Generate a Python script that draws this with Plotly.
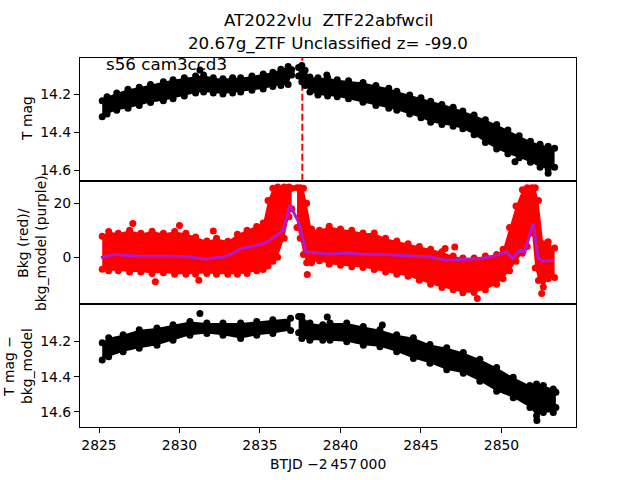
import plotly.graph_objects as go

# ---------------- data ----------------
# Top panel: T mag band (segment before and after the gap)
t_top1 = [2825.2, 2825.5, 2826.1, 2826.8, 2827.5, 2828.2, 2829.0, 2829.6, 2830.3, 2831.0, 2831.5,
          2832.1, 2832.7, 2833.3, 2833.8, 2834.5, 2835.2, 2835.8, 2836.3, 2836.75, 2836.97]
top1_hi = [14.235, 14.215, 14.195, 14.175, 14.165, 14.15, 14.135, 14.125, 14.115, 14.105, 14.10,
           14.115, 14.12, 14.115, 14.115, 14.105, 14.095, 14.085, 14.07, 14.055, 14.072]
top1_lo = [14.32, 14.305, 14.285, 14.275, 14.26, 14.245, 14.235, 14.225, 14.21, 14.195, 14.19,
           14.195, 14.2, 14.195, 14.19, 14.18, 14.173, 14.16, 14.155, 14.15, 14.10]
t_top2 = [2837.4, 2837.6, 2837.8, 2838.1, 2838.6, 2839.2, 2839.8, 2840.5, 2841.4, 2842.2, 2843.0,
          2843.5, 2844.3, 2845.0, 2845.6, 2846.3, 2847.0, 2847.6, 2848.3, 2849.0, 2849.7, 2850.4,
          2851.1, 2851.8, 2852.4, 2852.9, 2853.3]
top2_hi = [14.06, 14.05, 14.075, 14.11, 14.115, 14.115, 14.125, 14.13, 14.14, 14.155, 14.17,
           14.185, 14.205, 14.22, 14.238, 14.255, 14.27, 14.29, 14.31, 14.335, 14.36, 14.39,
           14.42, 14.448, 14.465, 14.475, 14.485]
top2_lo = [14.105, 14.135, 14.155, 14.19, 14.205, 14.21, 14.215, 14.225, 14.243, 14.26, 14.275,
           14.285, 14.305, 14.325, 14.348, 14.36, 14.37, 14.383, 14.415, 14.455, 14.489, 14.515,
           14.535, 14.559, 14.585, 14.595, 14.585]
top_out_t = [2831.27, 2839.15, 2850.84, 2852.9]
top_out_m = [14.074, 14.10, 14.556, 14.617]

# Middle panel: background (red band) and background model (purple line)
t_bkg1 = [2825.2, 2825.6, 2826.2, 2826.9, 2827.6, 2828.3, 2829.0, 2829.7, 2830.4, 2831.0, 2831.7,
          2832.3, 2833.0, 2833.6, 2834.2, 2834.8, 2835.2, 2835.5, 2835.8, 2836.1, 2836.5, 2836.8,
          2836.97]
bkg1_hi = [7.8, 9.5, 8.9, 10.0, 8.9, 9.6, 8.9, 9.5, 8.9, 7.5, 6.0, 7.0, 5.9, 8.5, 10.0, 11.4, 12.7,
           21.0, 25.5, 26.0, 26.0, 26.0, 25.5]
bkg1_lo = [-4.4, -5.0, -5.0, -5.5, -5.5, -6.0, -5.7, -6.3, -6.3, -6.3, -6.0, -6.3, -6.3, -6.3,
           -6.0, -5.0, -4.5, -3.2, -1.5, 0.0, 7.0, 15.0, 18.0]
t_bkg2 = [2837.3, 2837.5, 2837.7, 2837.9, 2838.2, 2838.7, 2839.3, 2840.0, 2840.7, 2841.4, 2842.1,
          2842.8, 2843.5, 2844.2, 2844.9, 2845.6, 2846.3, 2847.0, 2847.6, 2848.3, 2849.0, 2849.7,
          2850.1, 2850.5, 2850.9, 2851.3, 2851.6, 2851.9, 2852.1, 2852.3, 2852.6, 2852.9, 2853.3]
bkg2_hi = [25.7, 25.7, 25.5, 20.0, 10.5, 10.0, 11.5, 10.5, 10.0, 9.0, 9.0, 7.0, 6.0, 5.0, 4.0,
           3.0, 2.0, 0.5, -0.3, -0.3, 0.5, 1.0, 3.0, 11.0, 19.0, 25.0, 25.7, 25.7, 25.7, 21.0,
           5.0, 4.0, 3.4]
bkg2_lo = [11.0, 7.0, 1.0, -2.0, -2.0, -1.3, -2.6, -3.0, -3.5, -3.8, -4.5, -5.5, -6.3, -7.0,
           -8.5, -10.0, -11.2, -12.0, -13.1, -13.0, -12.0, -10.0, -8.0, -5.0, -1.5, 1.5, 4.0,
           9.0, -4.0, -8.6, -11.0, -8.0, -7.5]
bkg_out_t = [2827.1, 2830.0, 2832.1, 2828.5, 2831.2, 2837.94, 2848.5, 2852.5, 2846.5, 2847.1, 2852.9]
bkg_out_v = [12.5, 11.8, 9.7, -9.1, -8.5, -6.4, -15.3, -13.4, 3.2, 3.8, 5.7]

t_model = [2825.12, 2826.1, 2826.5, 2827.55, 2828.58, 2829.6, 2830.65, 2831.69, 2832.3, 2832.72,
           2833.34, 2833.76, 2834.38, 2834.79, 2835.2, 2835.62, 2836.03, 2836.45, 2836.86,
           2837.4, 2837.7, 2837.85, 2838.93, 2839.35, 2840.39, 2841.42, 2842.45, 2843.49,
           2844.53, 2845.56, 2846.6, 2847.63, 2848.66, 2849.29, 2849.7, 2850.32, 2850.69,
           2851.15, 2851.46, 2851.77, 2851.98, 2852.29, 2852.6, 2853.22]
model_v = [-0.1, 1.1, 0.7, 0.4, 0.4, 0.4, 0.1, -0.7, -0.1, 0.1, 1.4, 3.2, 3.8, 4.4, 5.0, 6.3,
           8.0, 10.0, 19.3, 13.0, 6.0, 2.0, 1.4, 1.1, 1.6, 1.1, 1.1, 0.7, 0.4, 0.1, -1.1, -0.9,
           -0.5, 0.1, 0.7, 2.0, -0.5, 2.6, 2.0, 8.8, 12.5, -0.5, -1.5, -1.1]

# Bottom panel: T mag - bkg_model band
t_cor1 = [2825.2, 2825.6, 2826.5, 2827.5, 2828.6, 2829.6, 2830.65, 2831.7, 2832.7, 2833.8,
          2834.8, 2835.8, 2836.9]
cor1_hi = [14.207, 14.179, 14.161, 14.133, 14.123, 14.104, 14.086, 14.095, 14.095, 14.095,
           14.086, 14.076, 14.067]
cor1_lo = [14.305, 14.286, 14.258, 14.239, 14.221, 14.193, 14.165, 14.155, 14.165, 14.183,
           14.165, 14.155, 14.137]
t_cor2 = [2837.4, 2837.6, 2838.1, 2838.9, 2839.35, 2840.39, 2841.42, 2842.45, 2843.49, 2844.53,
          2845.56, 2846.6, 2847.63, 2848.66, 2849.7, 2850.73, 2851.77, 2852.18, 2852.6,
          2853.22, 2853.38]
cor2_hi = [14.058, 14.058, 14.095, 14.104, 14.095, 14.095, 14.114, 14.133, 14.161, 14.179,
           14.217, 14.235, 14.263, 14.301, 14.348, 14.404, 14.451, 14.442, 14.451, 14.470, 14.488]
cor2_lo = [14.15, 14.183, 14.193, 14.193, 14.193, 14.202, 14.221, 14.230, 14.258, 14.296,
           14.324, 14.361, 14.380, 14.426, 14.483, 14.520, 14.576, 14.623, 14.604, 14.604, 14.576]
cor_out_t = [2831.27, 2839.18, 2842.6, 2852.2]
cor_out_m = [14.041, 14.060, 14.106, 14.649]

t_marker = 2837.63
x_ticks = [2825, 2830, 2835, 2840, 2845, 2850]
mag_ticks = [14.2, 14.4, 14.6]
bkg_ticks = [0, 20]

title1 = "AT2022vlu  ZTF22abfwcil"
title2 = "20.67g_ZTF Unclassified z= -99.0"
sector_label = "s56 cam3ccd3"

# ---------------- figure ----------------
FONT = "DejaVu Sans"
W, H = 640, 480
fig = go.Figure()

def band(t, hi, lo, color, xa, ya, msize=7):
    fig.add_trace(go.Scatter(x=t + t[::-1], y=hi + lo[::-1], fill="toself", fillcolor=color,
                             mode="lines", line=dict(width=0, color=color),
                             xaxis=xa, yaxis=ya, hoverinfo="skip", showlegend=False))
    for yy in (hi, lo):
        fig.add_trace(go.Scatter(x=t, y=yy, mode="markers",
                                 marker=dict(size=msize, color=color, line=dict(width=0)),
                                 xaxis=xa, yaxis=ya, showlegend=False))

band(t_top1, top1_hi, top1_lo, "black", "x", "y")
band(t_top2, top2_hi, top2_lo, "black", "x", "y")
fig.add_trace(go.Scatter(x=top_out_t, y=top_out_m, mode="markers",
                         marker=dict(size=7, color="black"), xaxis="x", yaxis="y", showlegend=False))

band(t_bkg1, bkg1_hi, bkg1_lo, "red", "x2", "y2")
band(t_bkg2, bkg2_hi, bkg2_lo, "red", "x2", "y2")
fig.add_trace(go.Scatter(x=bkg_out_t, y=bkg_out_v, mode="markers",
                         marker=dict(size=7, color="red"), xaxis="x2", yaxis="y2", showlegend=False))
fig.add_trace(go.Scatter(x=t_model, y=model_v, mode="lines",
                         line=dict(color="#b418c8", width=3), xaxis="x2", yaxis="y2",
                         showlegend=False))

band(t_cor1, cor1_hi, cor1_lo, "black", "x3", "y3")
band(t_cor2, cor2_hi, cor2_lo, "black", "x3", "y3")
fig.add_trace(go.Scatter(x=cor_out_t, y=cor_out_m, mode="markers",
                         marker=dict(size=7, color="black"), xaxis="x3", yaxis="y3", showlegend=False))

# geometry (matplotlib default subplot box, hspace=0)
L, R, T, B = 80, 576, 57.6, 427.2
ph = (B - T) / 3
def ydom(i):
    top = T + i * ph
    bot = top + ph
    return [1 - bot / H, 1 - top / H]

xrange = [2823.82, 2854.63]
axis_common = dict(showline=True, linecolor="black", linewidth=1, mirror=True, showgrid=False,
                   zeroline=False, ticks="outside", ticklen=5, tickwidth=1, tickcolor="black",
                   tickfont=dict(family=FONT, size=13.9, color="black"))

fig.update_layout(
    width=W, height=H, margin=dict(l=0, r=0, t=0, b=0),
    paper_bgcolor="white", plot_bgcolor="white", showlegend=False,
    xaxis=dict(axis_common, domain=[L / W, R / W], range=xrange, anchor="y",
               matches="x3", showticklabels=False, ticks=""),
    xaxis2=dict(axis_common, domain=[L / W, R / W], range=xrange, anchor="y2",
                matches="x3", showticklabels=False, ticks=""),
    xaxis3=dict(axis_common, domain=[L / W, R / W], range=xrange, anchor="y3",
                tickvals=x_ticks, ticktext=[str(v) for v in x_ticks]),
    yaxis=dict(axis_common, domain=ydom(0), range=[14.6568, 14.0084], anchor="x",
               tickvals=mag_ticks, ticktext=[f"{v:.1f}" for v in mag_ticks]),
    yaxis2=dict(axis_common, domain=ydom(1), range=[-17.3, 28.3], anchor="x2",
                tickvals=bkg_ticks, ticktext=[str(v) for v in bkg_ticks]),
    yaxis3=dict(axis_common, domain=ydom(2), range=[14.6876, 13.9865], anchor="x3",
                tickvals=mag_ticks, ticktext=[f"{v:.1f}" for v in mag_ticks]),
)

fig.add_shape(type="line", xref="x", yref="y domain", x0=t_marker, x1=t_marker, y0=0, y1=1,
              line=dict(color="red", width=2, dash="7px,3px"), layer="below")

def ann(text, x, y, size=13.9, angle=0, xanchor="center", yanchor="middle"):
    fig.add_annotation(text=text, x=x / W, y=1 - y / H, xref="paper", yref="paper",
                       showarrow=False, textangle=angle, xanchor=xanchor, yanchor=yanchor,
                       font=dict(family=FONT, size=size, color="black"))

ann(title1, 328, 20, size=16.7)
ann(title2, 328, 43, size=16.7)
ann(sector_label, 104, 64, size=16.7, xanchor="left")
ann("T mag", 27, 119, angle=-90)
ann("Bkg (red)/<br>bkg_model (purple)", 32, 243, angle=-90)
ann("T mag \u2212<br>bkg_model", 18, 366, angle=-90)
ann("BTJD \u22122\u2009457\u2009000", 328, 464)

fig.write_html("out.html", config={"displayModeBar": False},
               post_script="document.body.style.margin='0px';")
